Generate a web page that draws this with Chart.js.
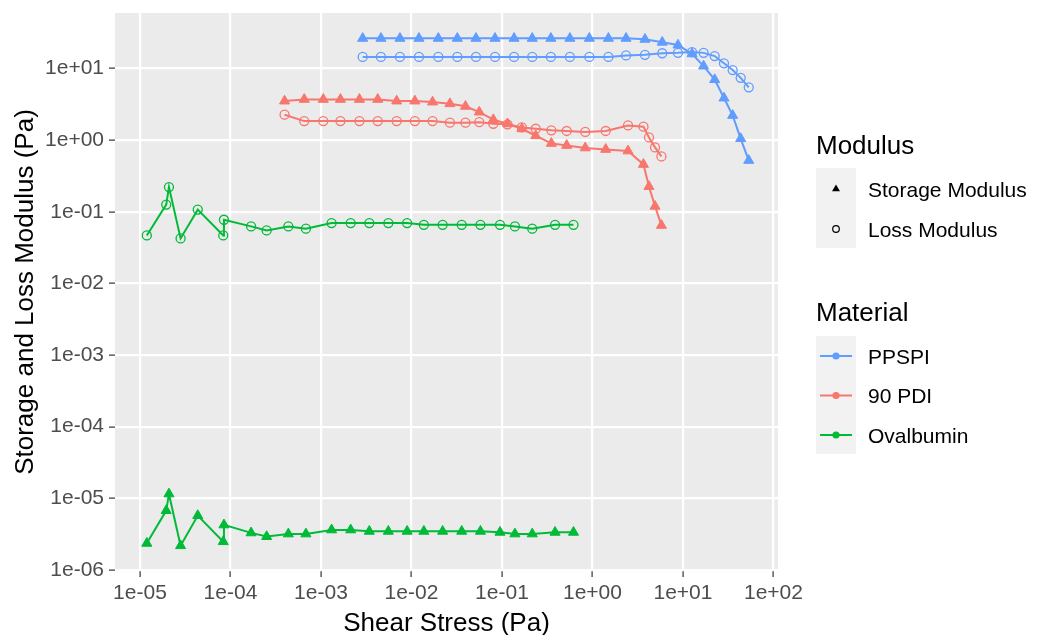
<!DOCTYPE html>
<html><head><meta charset="utf-8">
<script src="https://cdn.jsdelivr.net/npm/chart.js@4.4.1/dist/chart.umd.min.js"></script>
<style>
html,body{margin:0;padding:0;background:#fff;}
#wrap{position:relative;width:1041px;height:635px;font-family:"Liberation Sans",Arial,sans-serif;overflow:hidden;}
#c{position:absolute;left:0;top:0;}
.lg{position:absolute;white-space:nowrap;line-height:1;color:#000;}
.lt{font-size:26px;}
.ll{font-size:21px;}
</style></head><body>
<div id="wrap">
<canvas id="c" width="1041" height="635"></canvas>
<div class="lg lt" style="left:816px;top:132px">Modulus</div>
<div class="lg ll" style="left:868px;top:179px">Storage Modulus</div>
<div class="lg ll" style="left:868px;top:219px">Loss Modulus</div>
<div class="lg lt" style="left:816px;top:299px">Material</div>
<div class="lg ll" style="left:868px;top:346px">PPSPI</div>
<div class="lg ll" style="left:868px;top:385px">90 PDI</div>
<div class="lg ll" style="left:868px;top:425px">Ovalbumin</div>
</div>
<script>
// ---- data ----
const ppspiStress = [0.00289,0.00460,0.00746,0.0121,0.0198,0.0321,0.0516,0.0838,0.136,0.216,0.347,0.563,0.923,1.50,2.35,3.80,5.90,8.81,12.6,16.9,22.4,28.4,35.4,43.4,53.3];
const ppspiStorage = [26.3,26.3,26.3,26.3,26.3,26.3,26.3,26.3,26.3,26.3,26.3,26.3,26.3,26.3,26.3,25.5,23.2,21.2,16.0,10.8,6.98,3.86,2.21,1.05,0.52];
const ppspiLoss = [14.5,14.5,14.5,14.5,14.5,14.5,14.5,14.5,14.5,14.5,14.5,14.5,14.5,14.5,15.2,15.5,16.3,16.5,16.9,16.5,14.9,11.8,9.50,7.39,5.45];

const pdiStress = [0.000396,0.000653,0.00106,0.00164,0.00266,0.00424,0.00686,0.0109,0.0171,0.0266,0.0395,0.0561,0.0802,0.115,0.166,0.236,0.351,0.519,0.832,1.40,2.47,3.66,4.21,4.91,5.78];
const pdiStorage = [3.51,3.70,3.70,3.70,3.70,3.70,3.51,3.51,3.40,3.22,2.96,2.46,1.93,1.69,1.44,1.15,0.900,0.843,0.778,0.741,0.706,0.458,0.225,0.119,0.0644];
const pdiLoss = [2.26,1.84,1.84,1.84,1.84,1.84,1.84,1.84,1.84,1.75,1.75,1.78,1.69,1.66,1.50,1.44,1.37,1.34,1.30,1.34,1.60,1.54,1.09,0.791,0.591];

const ovaStress = [1.19e-5,1.95e-5,2.09e-5,2.81e-5,4.35e-5,8.32e-5,8.47e-5,1.69e-4,2.51e-4,4.36e-4,6.82e-4,1.31e-3,2.13e-3,3.42e-3,5.55e-3,8.95e-3,1.37e-2,2.21e-2,3.59e-2,5.78e-2,9.51e-2,0.139,0.216,0.386,0.617];
const ovaStorage = [2.35e-6,6.73e-6,1.15e-5,2.18e-6,5.73e-6,2.48e-6,4.25e-6,3.29e-6,2.92e-6,3.18e-6,3.18e-6,3.62e-6,3.62e-6,3.46e-6,3.46e-6,3.46e-6,3.46e-6,3.46e-6,3.46e-6,3.46e-6,3.35e-6,3.18e-6,3.18e-6,3.35e-6,3.35e-6];
const ovaLoss = [0.0467,0.126,0.221,0.0424,0.107,0.0467,0.0773,0.0624,0.0548,0.0624,0.0580,0.0694,0.0694,0.0694,0.0694,0.0694,0.0657,0.0657,0.0657,0.0657,0.0657,0.0624,0.0580,0.0657,0.0657];

const xTickValues = [1e-5,1e-4,1e-3,1e-2,1e-1,1,10,100];
const yTickValues = [1e-6,1e-5,1e-4,1e-3,1e-2,1e-1,1,10];
const materials = ['PPSPI','90 PDI','Ovalbumin'];
const colors = {'PPSPI':'#619CFF','90 PDI':'#F8766D','Ovalbumin':'#00BA38'};

// ---- build ----
const FONT = '"Liberation Sans", Arial, sans-serif';
function fmt(v){
  const e = Math.round(Math.log10(v));
  return '1e' + (e < 0 ? '-' : '+') + String(Math.abs(e)).padStart(2,'0');
}
function pts(xs, ys){ return xs.map((x,i)=>({x:x, y:ys[i]})); }
function storageSet(label, xs, ys){
  const c = colors[label];
  return {label: label + ' storage', data: pts(xs, ys), borderColor: c, backgroundColor: c,
    borderWidth: 2, pointStyle: 'triangle', pointRadius: 5.8, pointBorderWidth: 1,
    pointBackgroundColor: c, pointBorderColor: c, tension: 0, fill: false};
}
function lossSet(label, xs, ys){
  const c = colors[label];
  return {label: label + ' loss', data: pts(xs, ys), borderColor: c, backgroundColor: c,
    borderWidth: 2, pointStyle: 'circle', pointRadius: 4.5, pointBorderWidth: 1.3,
    pointBackgroundColor: 'rgba(0,0,0,0)', pointBorderColor: c, tension: 0, fill: false};
}
const datasets = [
  storageSet('PPSPI', ppspiStress, ppspiStorage), lossSet('PPSPI', ppspiStress, ppspiLoss),
  storageSet('90 PDI', pdiStress, pdiStorage), lossSet('90 PDI', pdiStress, pdiLoss),
  storageSet('Ovalbumin', ovaStress, ovaStorage), lossSet('Ovalbumin', ovaStress, ovaLoss)
];

const panelBg = {
  id: 'panelBg',
  beforeDraw(chart){
    const {ctx, chartArea:a} = chart;
    ctx.save(); ctx.fillStyle = '#EBEBEB';
    ctx.fillRect(a.left, a.top, a.right - a.left, a.bottom - a.top);
    ctx.restore();
  }
};
const legendKeys = {
  id: 'legendKeys',
  afterDraw(chart){
    const ctx = chart.ctx;
    ctx.save();
    ctx.fillStyle = '#F2F2F2';
    ctx.fillRect(816, 168, 40, 80);
    ctx.fillRect(816, 336, 40, 118);
    ctx.fillStyle = '#000';
    const r = 4.6, cx = 836, cy = 189;
    ctx.beginPath();
    ctx.moveTo(cx, cy - r);
    ctx.lineTo(cx + r*Math.sin(2*Math.PI/3), cy - r*Math.cos(2*Math.PI/3));
    ctx.lineTo(cx + r*Math.sin(4*Math.PI/3), cy - r*Math.cos(4*Math.PI/3));
    ctx.closePath(); ctx.fill();
    ctx.strokeStyle = '#000'; ctx.lineWidth = 1.2;
    ctx.beginPath(); ctx.arc(836, 229, 3.3, 0, 2*Math.PI); ctx.stroke();
    const ys = [356, 395.5, 435];
    materials.forEach((m,i)=>{
      ctx.strokeStyle = colors[m]; ctx.fillStyle = colors[m]; ctx.lineWidth = 2;
      ctx.beginPath(); ctx.moveTo(820, ys[i]); ctx.lineTo(852, ys[i]); ctx.stroke();
      ctx.beginPath(); ctx.arc(836, ys[i], 3.6, 0, 2*Math.PI); ctx.fill();
    });
    ctx.restore();
  }
};

new Chart(document.getElementById('c'), {
  type: 'line',
  data: { datasets },
  plugins: [panelBg, legendKeys],
  options: {
    responsive: false, animation: false, devicePixelRatio: 1,
    layout: { padding: { top: 13, right: 263, bottom: 0, left: 0 } },
    plugins: { legend: { display: false }, tooltip: { enabled: false } },
    scales: {
      x: {
        type: 'logarithmic',
        min: Math.pow(10, -5.276), max: Math.pow(10, 2.05),
        afterBuildTicks(s){ s.ticks = xTickValues.map(v => ({value: v})); },
        afterFit(s){ s.height = 64; s.paddingLeft = 0; s.paddingRight = 0; },
        ticks: { callback: v => fmt(v), font: { size: 21, family: FONT }, color: '#4D4D4D',
                 padding: 4, maxRotation: 0, autoSkip: false },
        grid: { color: '#FFFFFF', lineWidth: 2.2, tickColor: '#333333', tickLength: 6, tickWidth: 1.2 },
        border: { display: false },
        title: { display: true, text: 'Shear Stress (Pa)', color: '#000',
                 font: { size: 26, family: FONT, lineHeight: 0.85 }, padding: { top: 0, bottom: 0 } }
      },
      y: {
        type: 'logarithmic',
        min: Math.pow(10, -6.015), max: Math.pow(10, 1.774),
        afterBuildTicks(s){ s.ticks = yTickValues.map(v => ({value: v})); },
        afterFit(s){ s.width = 115; s.paddingTop = 0; s.paddingBottom = 0; },
        ticks: { callback: v => fmt(v), font: { size: 21, family: FONT }, color: '#4D4D4D',
                 padding: 5, autoSkip: false },
        grid: { color: '#FFFFFF', lineWidth: 2.2, tickColor: '#333333', tickLength: 6, tickWidth: 1.2 },
        border: { display: false },
        title: { display: true, text: 'Storage and Loss Modulus (Pa)', color: '#000',
                 font: { size: 26, family: FONT, lineHeight: 1 }, padding: { top: 13, bottom: 0 } }
      }
    }
  }
});
</script>
</body></html>
